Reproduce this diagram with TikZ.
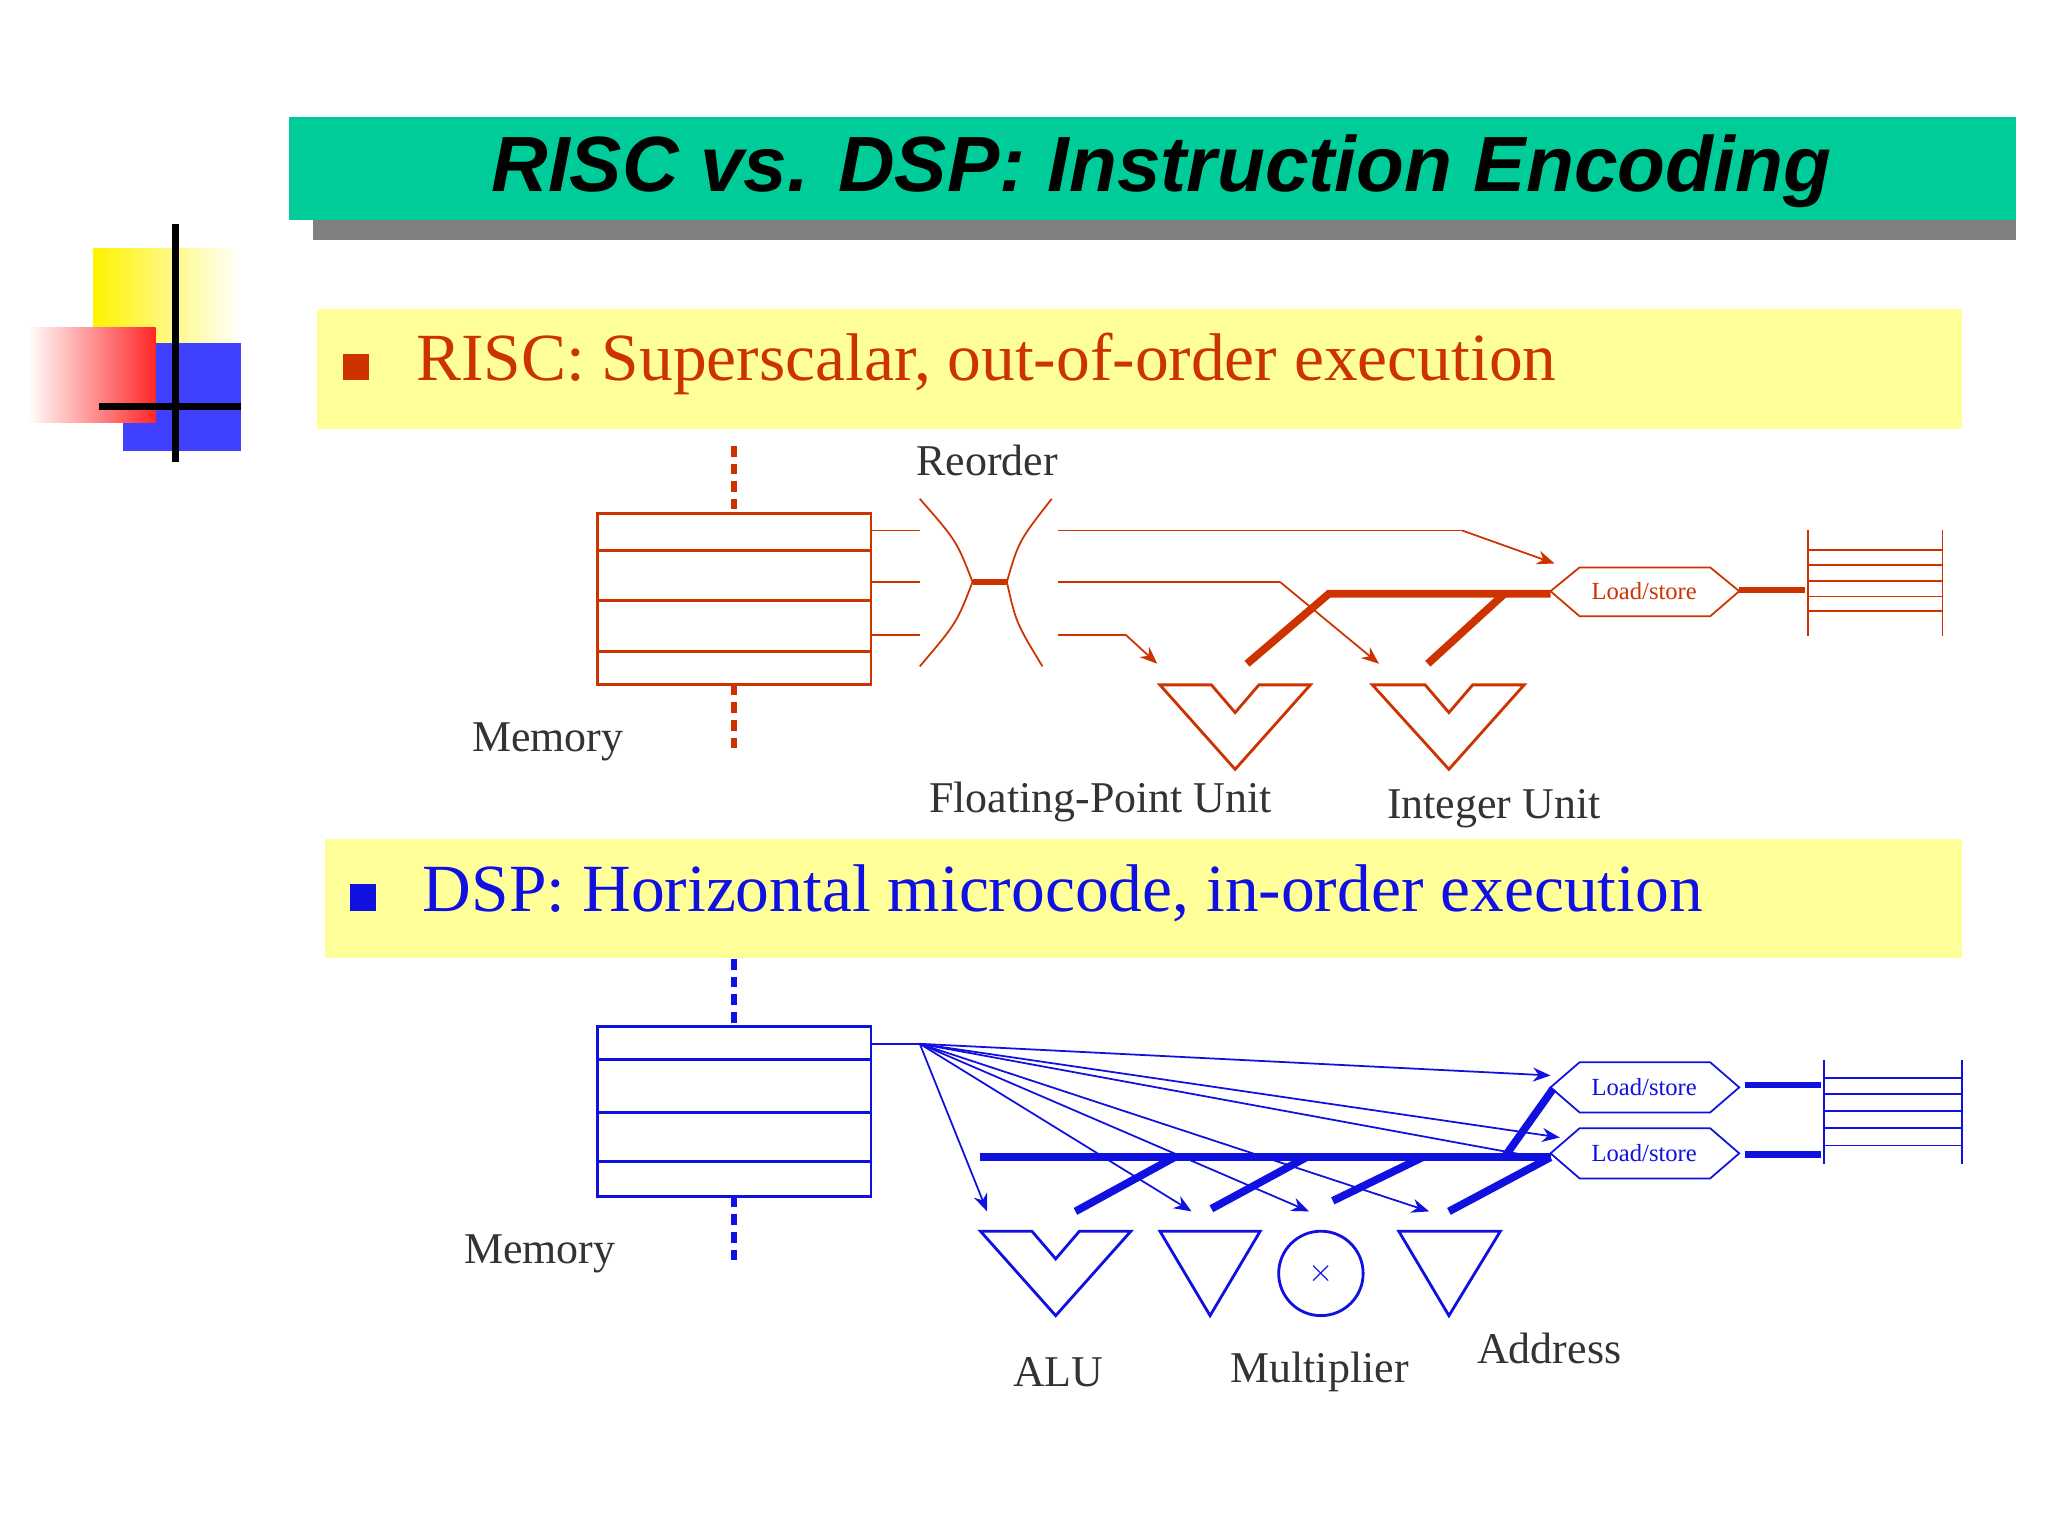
\documentclass[tikz,border=0pt]{standalone}
\usepackage{fontspec}
\setmainfont{Liberation Serif}
\newfontfamily\titlefont{Liberation Sans}
\usetikzlibrary{arrows.meta}
\definecolor{rr}{HTML}{CC3300}
\definecolor{bb}{HTML}{1010E0}
\definecolor{tg}{HTML}{00CC99}
\definecolor{yb}{HTML}{FFFF99}
\definecolor{tx}{HTML}{333333}
\begin{document}
\begin{tikzpicture}[x=0.013196cm,y=-0.013196cm,
 lab/.style={text=tx,font=\fontsize{12.5}{14}\selectfont,inner sep=0},
 ls/.style={font=\fontsize{7}{8}\selectfont,inner sep=0},
 thin/.style={line width=0.5pt},
 thick/.style={line width=1.8pt},
 arr/.style={-{Stealth[length=5pt,width=4pt]},line width=0.5pt}]
\useasboundingbox (0,0) rectangle (1552,1164);
\fill[white] (0,0) rectangle (1552,1164);
% logo
\shade[left color=yellow!90!orange,right color=white] (71,188) rectangle (183,300);
\fill[blue!75!white] (93,260) rectangle (183,342);
\shade[left color=white,right color=red!85] (21,248) rectangle (118,320);
\draw[line width=2pt] (133,170) -- (133,350);
\draw[line width=2pt] (75,308) -- (183,308);
% title
\fill[gray] (237,167) rectangle (1528,182);
\fill[tg] (219,89) rectangle (1528,167);
\node[font=\titlefont\bfseries\itshape\fontsize{22.3}{26}\selectfont,inner sep=0] (title) at (880,130) {RISC vs. DSP: Instruction Encoding};
% bands
\fill[yb] (240,234) rectangle (1487,325);
\fill[rr] (260,268) rectangle (280,288);
\node[anchor=west,text=rr,font=\fontsize{19.2}{22}\selectfont,inner sep=0] (h1) at (315,276) {RISC: Superscalar, out-of-order execution};
\fill[yb] (246,636) rectangle (1487,726);
\fill[bb] (265,670) rectangle (285,690);
\node[anchor=west,text=bb,font=\fontsize{19.2}{22}\selectfont,inner sep=0] (h2) at (320,677) {DSP: Horizontal microcode, in-order execution};
% ---------- RISC ----------
\begin{scope}[rr]
\draw[line width=1.8pt,densely dashed] (556,338) -- (556,389);
\draw[line width=1.8pt,densely dashed] (556,519) -- (556,572);
\draw[line width=0.8pt] (453,389) rectangle (660,519);
\foreach \y in {417,455,494} \draw[line width=0.8pt] (453,\y) -- (660,\y);
\foreach \y in {402,441,481} \draw[thin] (660,\y) -- (697,\y);
\draw[thin] (697,378) .. controls (725,410) .. (737,441) .. controls (725,472) .. (697,505);
\draw[thin] (797,378) .. controls (772,410) .. (763,441) .. controls (770,472) .. (790,505);
\draw[thick] (737,441) -- (763,441);
\draw[thin] (802,402) -- (1108,402);
\draw[arr] (1108,402) -- (1178,427);
\draw[thin] (802,441) -- (970,441);
\draw[arr] (970,441) -- (1045,503);
\draw[thin] (802,481) -- (853,481);
\draw[arr] (853,481) -- (877,503);
\draw[line width=2.2pt] (945,503) -- (1007,450) -- (1175,450);
\draw[line width=2.2pt] (1082,503) -- (1140,450);
\draw[thin] (1175,448) -- (1197,430) -- (1296,430) -- (1318,448) -- (1296,467) -- (1197,467) -- cycle;
\node[ls,text=rr] (lsr) at (1246,448) {Load/store};
\draw[line width=1.8pt] (1318,447) -- (1368,447);
\draw[thin] (1370,402) -- (1370,482);
\draw[thin] (1472,402) -- (1472,482);
\foreach \y in {417,428,440,452,463} \draw[thin] (1370,\y) -- (1472,\y);
\draw[line width=0.8pt] (879,519) -- (918,519) -- (936,540) -- (954,519) -- (993,519) -- (936,583) -- cycle;
\draw[line width=0.8pt] (1040,519) -- (1080,519) -- (1098,540) -- (1116,519) -- (1155,519) -- (1098,583) -- cycle;
\end{scope}
\node[lab] (reorder) at (748,349) {Reorder};
\node[lab] (mem1) at (415,562) {Memory};
\node[lab] (fpu) at (834,608) {Floating-Point Unit};
\node[lab] (iu) at (1132,613) {Integer Unit};
% ---------- DSP ----------
\begin{scope}[bb]
\draw[line width=1.8pt,densely dashed] (556,727) -- (556,778);
\draw[line width=1.8pt,densely dashed] (556,907) -- (556,958);
\draw[line width=0.8pt] (453,778) rectangle (660,907);
\foreach \y in {803,843,880} \draw[line width=0.8pt] (453,\y) -- (660,\y);
\draw[thin] (660,791) -- (697,791);
\coordinate (src) at (697,791);
\draw[arr] (src) -- (748,918);
\draw[arr] (src) -- (903,918);
\draw[arr] (src) -- (992,918);
\draw[arr] (src) -- (1083,918);
\draw[arr] (src) -- (1175,815);
\draw[arr] (src) -- (1182,862);
\draw[thin] (src) -- (1170,878);
\draw[line width=2.2pt] (743,877) -- (1175,877);
\draw[line width=2.2pt] (815,918) -- (890,877);
\draw[line width=2.2pt] (918,916) -- (990,877);
\draw[line width=2.2pt] (1010,910) -- (1078,877);
\draw[line width=2.2pt] (1098,918) -- (1175,877);
\draw[line width=2.2pt] (1140,877) -- (1177,825);
\foreach \c/\n in {824/lsa,874/lsb}{
 \draw[thin] (1175,\c) -- (1197,\c-19) -- (1296,\c-19) -- (1318,\c) -- (1296,\c+19) -- (1197,\c+19) -- cycle;
 \node[ls,text=bb] (\n) at (1246,\c) {Load/store};}
\draw[line width=1.8pt] (1322,822) -- (1380,822);
\draw[line width=1.8pt] (1322,875) -- (1380,875);
\draw[thin] (1382,803) -- (1382,882);
\draw[thin] (1487,803) -- (1487,882);
\foreach \y in {817,829,842,855,868} \draw[thin] (1382,\y) -- (1487,\y);
\draw[line width=0.8pt] (743,933) -- (782,933) -- (800,954) -- (818,933) -- (857,933) -- (800,997) -- cycle;
\draw[line width=0.8pt] (879,933) -- (955,933) -- (917,997) -- cycle;
\draw[line width=0.8pt] (1001,965) circle (32);
\node[font=\fontsize{9}{10}\selectfont,inner sep=0,text=bb] (x) at (1001,965) {$\times$};
\draw[line width=0.8pt] (1060,933) -- (1137,933) -- (1098,997) -- cycle;
\end{scope}
\node[lab] (mem2) at (409,950) {Memory};
\node[lab] (alu) at (802,1040) {ALU};
\node[lab] (mul) at (1000,1040) {Multiplier};
\node[lab] (addr) at (1174,1022) {Address};
\end{tikzpicture}
\end{document}
